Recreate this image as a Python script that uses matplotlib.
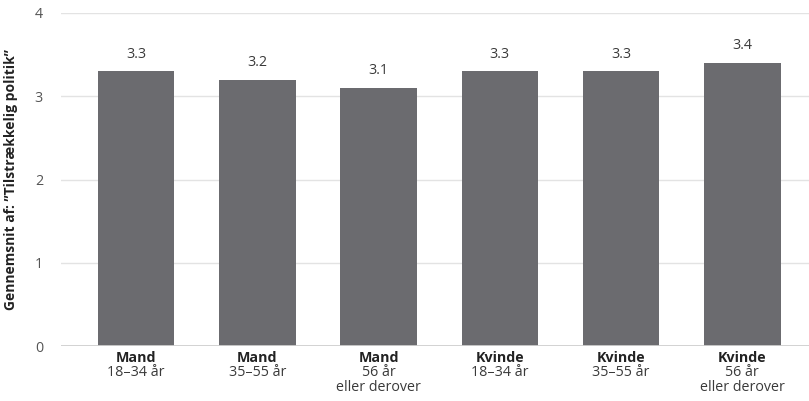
import matplotlib.pyplot as plt
import numpy as np

groups = ['Mand', 'Mand', 'Mand', 'Kvinde', 'Kvinde', 'Kvinde']
ages = ['18–34 år', '35–55 år', '56 år\neller derover',
        '18–34 år', '35–55 år', '56 år\neller derover']
values = [3.3, 3.2, 3.1, 3.3, 3.3, 3.4]
yticks = [0, 1, 2, 3, 4]

plt.rcParams['font.family'] = ['Open Sans', 'DejaVu Sans']

bar_color = '#6b6b6f'
text_color = '#3a3a3a'
fs = 10.3

fig = plt.figure(figsize=(8.09, 4.01), dpi=100)
ax = fig.add_axes([0.0754, 0.137, 0.9246, 0.8306])

x = np.arange(len(values))
ax.bar(x, values, width=0.63, color=bar_color, zorder=3)

for xi, v in zip(x, values):
    ax.annotate('{:.1f}'.format(v), (xi, v), xytext=(0, 7), textcoords='offset points',
                ha='center', va='bottom', fontsize=fs, color=text_color)

ax.set_ylim(0, 4)
ax.set_xlim(-0.62, 5.55)
ax.set_yticks(yticks)
ax.set_yticklabels([str(t) for t in yticks], fontsize=fs, color='#555555')
ax.grid(axis='y', color='#e3e3e3', linewidth=1, zorder=0)
ax.axhline(0, color='#cfcfcf', linewidth=2, zorder=4)

for s in ax.spines.values():
    s.set_visible(False)
ax.tick_params(axis='y', length=0, pad=13)
ax.tick_params(axis='x', length=0)
ax.set_xticks(x)
ax.set_xticklabels([''] * len(x))

# two-line category labels: bold group, regular age band
for xi, g, a in zip(x, groups, ages):
    ax.annotate(g, (xi, 0), xycoords=('data', 'axes fraction'), xytext=(0, -3.5),
                textcoords='offset points', ha='center', va='top',
                fontsize=fs, fontweight='bold', color='#222222')
    ax.annotate(a, (xi, 0), xycoords=('data', 'axes fraction'), xytext=(0, -13.5),
                textcoords='offset points', ha='center', va='top',
                fontsize=fs, color=text_color, linespacing=0.98)

ax.set_ylabel('Gennemsnit af: ”Tilstrækkelig politik”', fontsize=10,
              fontweight='bold', color='#222222')
ax.yaxis.set_label_coords(-0.057, 0.5)

plt.savefig('out.png', dpi=100)
